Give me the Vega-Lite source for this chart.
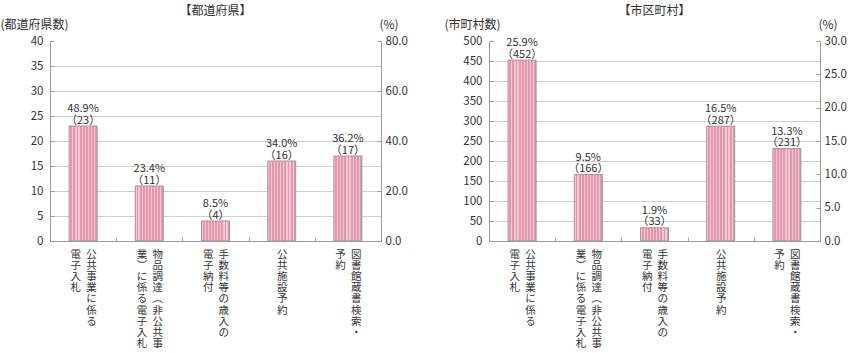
{
  "$schema": "https://vega.github.io/schema/vega-lite/v6.json",
  "background": "white",
  "padding": {"left": 0, "top": 5, "right": 0, "bottom": 0},
  "autosize": {"type": "pad"},
  "spacing": 36,
  "config": {
    "font": "Noto Sans CJK JP",
    "view": {"stroke": null},
    "axis": {"labelColor": "#333", "titleColor": "#333", "domainColor": "#9a9a9a", "tickColor": "#9a9a9a", "gridColor": "#cfcfcf", "labelFont": "Noto Sans CJK JP", "titleFont": "Noto Sans CJK JP", "titleFontWeight": "normal", "labelFontSize": 11.5},
    "title": {"font": "Noto Sans CJK JP", "fontSize": 12, "fontWeight": "normal", "color": "#333"}
  },
  "datasets": {
    "pref": [
      {"cat": "公共事業に係る電子入札", "count": 23, "pct": 48.9},
      {"cat": "物品調達（非公共事業）に係る電子入札", "count": 11, "pct": 23.4},
      {"cat": "手数料等の歳入の電子納付", "count": 4, "pct": 8.5},
      {"cat": "公共施設予約", "count": 16, "pct": 34.0},
      {"cat": "図書館蔵書検索・予約", "count": 17, "pct": 36.2}
    ],
    "muni": [
      {"cat": "公共事業に係る電子入札", "count": 452, "pct": 25.9},
      {"cat": "物品調達（非公共事業）に係る電子入札", "count": 166, "pct": 9.5},
      {"cat": "手数料等の歳入の電子納付", "count": 33, "pct": 1.9},
      {"cat": "公共施設予約", "count": 287, "pct": 16.5},
      {"cat": "図書館蔵書検索・予約", "count": 231, "pct": 13.3}
    ]
  },
  "hconcat": [
    {
      "width": 331,
      "height": 200,
      "title": {"text": "【都道府県】", "frame": "group", "anchor": "middle", "offset": 0},
      "data": {"name": "pref"},
      "transform": [{"calculate": "[format(datum.pct, '.1f') + '%', '（' + datum.count + '）']", "as": "lbl"}],
      "layer": [
        {
          "mark": {"type": "bar", "size": 28, "stroke": "#999", "strokeWidth": 1,
            "fill": {"gradient": "linear", "x1": 0, "y1": 0, "x2": 1, "y2": 0, "stops": [
              {"offset": 0, "color": "#f4c8d4"}, {"offset": 0.0444, "color": "#f4c8d4"}, {"offset": 0.0444, "color": "#e497ae"}, {"offset": 0.1111, "color": "#e497ae"},
              {"offset": 0.1111, "color": "#f4c8d4"}, {"offset": 0.1556, "color": "#f4c8d4"}, {"offset": 0.1556, "color": "#e497ae"}, {"offset": 0.2222, "color": "#e497ae"},
              {"offset": 0.2222, "color": "#f4c8d4"}, {"offset": 0.2667, "color": "#f4c8d4"}, {"offset": 0.2667, "color": "#e497ae"}, {"offset": 0.3333, "color": "#e497ae"},
              {"offset": 0.3333, "color": "#f4c8d4"}, {"offset": 0.3778, "color": "#f4c8d4"}, {"offset": 0.3778, "color": "#e497ae"}, {"offset": 0.4444, "color": "#e497ae"},
              {"offset": 0.4444, "color": "#f4c8d4"}, {"offset": 0.4889, "color": "#f4c8d4"}, {"offset": 0.4889, "color": "#e497ae"}, {"offset": 0.5556, "color": "#e497ae"},
              {"offset": 0.5556, "color": "#f4c8d4"}, {"offset": 0.6, "color": "#f4c8d4"}, {"offset": 0.6, "color": "#e497ae"}, {"offset": 0.6667, "color": "#e497ae"},
              {"offset": 0.6667, "color": "#f4c8d4"}, {"offset": 0.7111, "color": "#f4c8d4"}, {"offset": 0.7111, "color": "#e497ae"}, {"offset": 0.7778, "color": "#e497ae"},
              {"offset": 0.7778, "color": "#f4c8d4"}, {"offset": 0.8222, "color": "#f4c8d4"}, {"offset": 0.8222, "color": "#e497ae"}, {"offset": 0.8889, "color": "#e497ae"},
              {"offset": 0.8889, "color": "#f4c8d4"}, {"offset": 0.9333, "color": "#f4c8d4"}, {"offset": 0.9333, "color": "#e497ae"}, {"offset": 1, "color": "#e497ae"}
            ]}},
          "encoding": {
            "x": {"field": "cat", "type": "nominal", "sort": null, "title": null,
              "scale": {"paddingInner": 0, "paddingOuter": 0},
              "axis": {"orient": "bottom", "tickBand": "extent", "tickSize": -4, "labelPadding": 12, "labelAngle": 0, "labelFontSize": 10.5, "labelLineHeight": 11.2, "labelOverlap": false, "labelLimit": 0, "labelBound": false, "labelAlign": "center", "labelBaseline": "top", "grid": false, "domainColor": "#9a9a9a", "tickColor": "#aaaaaa",
                "labelExpr": "datum.label == '公共事業に係る電子入札' ? ['電\u2002公','子\u2002共','入\u2002事','札\u2002業','\u200B\u3000\u2002に','\u200B\u3000\u2002係','\u200B\u3000\u2002る'] : datum.label == '物品調達（非公共事業）に係る電子入札' ? ['業\u2002物','︶\u2002品','に\u2002調','係\u2002達','る\u2002︵','電\u2002非','子\u2002公','入\u2002共','札\u2002事'] : datum.label == '手数料等の歳入の電子納付' ? ['電\u2002手','子\u2002数','納\u2002料','付\u2002等','\u200B\u3000\u2002の','\u200B\u3000\u2002歳','\u200B\u3000\u2002入','\u200B\u3000\u2002の'] : datum.label == '図書館蔵書検索・予約' ? ['予\u2002図','約\u2002書','\u200B\u3000\u2002館','\u200B\u3000\u2002蔵','\u200B\u3000\u2002書','\u200B\u3000\u2002検','\u200B\u3000\u2002索','\u200B\u3000\u2002・'] : split(datum.label, '')"}},
            "y": {"field": "count", "type": "quantitative", "scale": {"domain": [0, 40]},
              "axis": {"orient": "left", "values": [0, 5, 10, 15, 20, 25, 30, 35, 40], "format": "d", "title": "(都道府県数)", "titleAngle": 0, "titleAlign": "left", "titleBaseline": "middle", "titleX": -50, "titleY": -17, "titleFontSize": 12, "grid": true, "tickSize": -4, "labelPadding": 11,
                "gridOpacity": {"condition": {"test": "datum.value == 40", "value": 0}, "value": 1}}}
          }
        },
        {
          "mark": {"type": "text", "baseline": "bottom", "dy": -12, "fontSize": 11, "lineHeight": 11.5, "color": "#333"},
          "encoding": {
            "x": {"field": "cat", "type": "nominal", "sort": null, "title": null},
            "y": {"field": "count", "type": "quantitative", "scale": {"domain": [0, 40]}, "axis": null},
            "text": {"field": "lbl"}
          }
        },
        {
          "mark": {"type": "point", "opacity": 0},
          "encoding": {
            "x": {"field": "cat", "type": "nominal", "sort": null, "title": null},
            "y": {"field": "pct", "type": "quantitative", "scale": {"domain": [0, 80]},
              "axis": {"orient": "right", "values": [0, 20, 40, 60, 80], "format": ".1f", "title": "(%)", "titleAngle": 0, "titleAlign": "left", "titleBaseline": "middle", "titleX": -2, "titleY": -17, "titleFontSize": 12, "grid": false, "tickSize": -4, "labelPadding": 8}}
          }
        }
      ],
      "resolve": {"scale": {"y": "independent"}}
    },
    {
      "width": 331,
      "height": 200,
      "title": {"text": "【市区町村】", "frame": "group", "anchor": "middle", "offset": 0},
      "data": {"name": "muni"},
      "transform": [{"calculate": "[format(datum.pct, '.1f') + '%', '（' + datum.count + '）']", "as": "lbl"}],
      "layer": [
        {
          "mark": {"type": "bar", "size": 28, "stroke": "#999", "strokeWidth": 1,
            "fill": {"gradient": "linear", "x1": 0, "y1": 0, "x2": 1, "y2": 0, "stops": [
              {"offset": 0, "color": "#f4c8d4"}, {"offset": 0.0444, "color": "#f4c8d4"}, {"offset": 0.0444, "color": "#e497ae"}, {"offset": 0.1111, "color": "#e497ae"},
              {"offset": 0.1111, "color": "#f4c8d4"}, {"offset": 0.1556, "color": "#f4c8d4"}, {"offset": 0.1556, "color": "#e497ae"}, {"offset": 0.2222, "color": "#e497ae"},
              {"offset": 0.2222, "color": "#f4c8d4"}, {"offset": 0.2667, "color": "#f4c8d4"}, {"offset": 0.2667, "color": "#e497ae"}, {"offset": 0.3333, "color": "#e497ae"},
              {"offset": 0.3333, "color": "#f4c8d4"}, {"offset": 0.3778, "color": "#f4c8d4"}, {"offset": 0.3778, "color": "#e497ae"}, {"offset": 0.4444, "color": "#e497ae"},
              {"offset": 0.4444, "color": "#f4c8d4"}, {"offset": 0.4889, "color": "#f4c8d4"}, {"offset": 0.4889, "color": "#e497ae"}, {"offset": 0.5556, "color": "#e497ae"},
              {"offset": 0.5556, "color": "#f4c8d4"}, {"offset": 0.6, "color": "#f4c8d4"}, {"offset": 0.6, "color": "#e497ae"}, {"offset": 0.6667, "color": "#e497ae"},
              {"offset": 0.6667, "color": "#f4c8d4"}, {"offset": 0.7111, "color": "#f4c8d4"}, {"offset": 0.7111, "color": "#e497ae"}, {"offset": 0.7778, "color": "#e497ae"},
              {"offset": 0.7778, "color": "#f4c8d4"}, {"offset": 0.8222, "color": "#f4c8d4"}, {"offset": 0.8222, "color": "#e497ae"}, {"offset": 0.8889, "color": "#e497ae"},
              {"offset": 0.8889, "color": "#f4c8d4"}, {"offset": 0.9333, "color": "#f4c8d4"}, {"offset": 0.9333, "color": "#e497ae"}, {"offset": 1, "color": "#e497ae"}
            ]}},
          "encoding": {
            "x": {"field": "cat", "type": "nominal", "sort": null, "title": null,
              "scale": {"paddingInner": 0, "paddingOuter": 0},
              "axis": {"orient": "bottom", "tickBand": "extent", "tickSize": -4, "labelPadding": 12, "labelAngle": 0, "labelFontSize": 10.5, "labelLineHeight": 11.2, "labelOverlap": false, "labelLimit": 0, "labelBound": false, "labelAlign": "center", "labelBaseline": "top", "grid": false, "domainColor": "#9a9a9a", "tickColor": "#aaaaaa",
                "labelExpr": "datum.label == '公共事業に係る電子入札' ? ['電\u2002公','子\u2002共','入\u2002事','札\u2002業','\u200B\u3000\u2002に','\u200B\u3000\u2002係','\u200B\u3000\u2002る'] : datum.label == '物品調達（非公共事業）に係る電子入札' ? ['業\u2002物','︶\u2002品','に\u2002調','係\u2002達','る\u2002︵','電\u2002非','子\u2002公','入\u2002共','札\u2002事'] : datum.label == '手数料等の歳入の電子納付' ? ['電\u2002手','子\u2002数','納\u2002料','付\u2002等','\u200B\u3000\u2002の','\u200B\u3000\u2002歳','\u200B\u3000\u2002入','\u200B\u3000\u2002の'] : datum.label == '図書館蔵書検索・予約' ? ['予\u2002図','約\u2002書','\u200B\u3000\u2002館','\u200B\u3000\u2002蔵','\u200B\u3000\u2002書','\u200B\u3000\u2002検','\u200B\u3000\u2002索','\u200B\u3000\u2002・'] : split(datum.label, '')"}},
            "y": {"field": "count", "type": "quantitative", "scale": {"domain": [0, 500]},
              "axis": {"orient": "left", "values": [0, 50, 100, 150, 200, 250, 300, 350, 400, 450, 500], "format": "d", "title": "(市町村数)", "titleAngle": 0, "titleAlign": "left", "titleBaseline": "middle", "titleX": -45, "titleY": -17, "titleFontSize": 12, "grid": true, "tickSize": -4, "labelPadding": 11,
                "gridOpacity": {"condition": {"test": "datum.value == 500", "value": 0}, "value": 1}}}
          }
        },
        {
          "mark": {"type": "text", "baseline": "bottom", "dy": -12, "fontSize": 11, "lineHeight": 11.5, "color": "#333"},
          "encoding": {
            "x": {"field": "cat", "type": "nominal", "sort": null, "title": null},
            "y": {"field": "count", "type": "quantitative", "scale": {"domain": [0, 500]}, "axis": null},
            "text": {"field": "lbl"}
          }
        },
        {
          "mark": {"type": "point", "opacity": 0},
          "encoding": {
            "x": {"field": "cat", "type": "nominal", "sort": null, "title": null},
            "y": {"field": "pct", "type": "quantitative", "scale": {"domain": [0, 30]},
              "axis": {"orient": "right", "values": [0, 5, 10, 15, 20, 25, 30], "format": ".1f", "title": "(%)", "titleAngle": 0, "titleAlign": "left", "titleBaseline": "middle", "titleX": -2, "titleY": -17, "titleFontSize": 12, "grid": false, "tickSize": -4, "labelPadding": 8}}
          }
        }
      ],
      "resolve": {"scale": {"y": "independent"}}
    }
  ]
}
